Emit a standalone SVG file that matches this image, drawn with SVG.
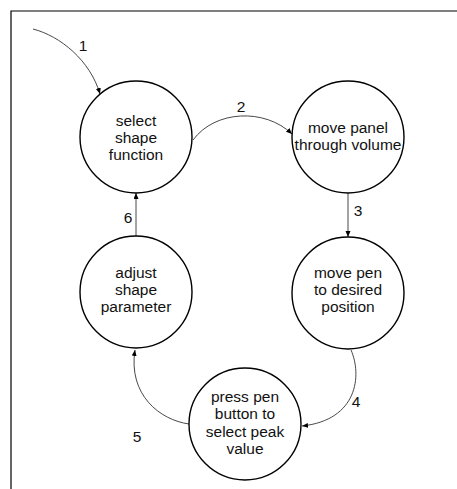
<svg xmlns="http://www.w3.org/2000/svg" width="457" height="489" viewBox="0 0 457 489">
<style>
.node circle{fill:#fff;stroke:#000;stroke-width:1.4}
.node text,.lbl{font-family:"Liberation Sans",Arial,sans-serif;font-size:15.5px;fill:#111;text-anchor:middle}
.edge{fill:none;stroke:#333;stroke-width:0.9;marker-end:url(#ah)}
</style>
<defs>
<marker id="ah" markerUnits="userSpaceOnUse" markerWidth="7" markerHeight="6" refX="6" refY="2.5" orient="auto">
<path d="M0,0 L6,2.5 L0,5 z" fill="#000"/>
</marker>
</defs>
<rect width="457" height="489" fill="#fff"/>
<path d="M457,11 H11 V489" fill="none" stroke="#000" stroke-width="1.2"/>
<g id="connectors">
<path class="edge" d="M33,29 C60,36 90,60 100,94"/>
<path class="edge" d="M193,140 C215,110 265,108 292,134"/>
<path class="edge" d="M348,193 L348,237"/>
<path class="edge" d="M351,350 C362,375 358,420 302,426"/>
<path class="edge" d="M189,424 C160,420 128,395 135,350"/>
<path class="edge" d="M136,237 L136,193"/>
<text class="lbl" x="83" y="51">1</text>
<text class="lbl" x="241" y="112">2</text>
<text class="lbl" x="358" y="216">3</text>
<text class="lbl" x="356" y="407">4</text>
<text class="lbl" x="137" y="442">5</text>
<text class="lbl" x="128" y="223">6</text>
</g>
<g id="n1" class="node">
<circle cx="136" cy="137" r="56"/>
<text x="136" y="126">select</text>
<text x="136" y="143">shape</text>
<text x="136" y="160">function</text>
</g>
<g id="n2" class="node">
<circle cx="348" cy="137" r="56"/>
<text x="348" y="133">move panel</text>
<text x="348" y="150">through volume</text>
</g>
<g id="n3" class="node">
<circle cx="348" cy="293" r="56"/>
<text x="348" y="278">move pen</text>
<text x="348" y="295">to desired</text>
<text x="348" y="312">position</text>
</g>
<g id="n4" class="node">
<circle cx="136" cy="292" r="56"/>
<text x="136" y="278">adjust</text>
<text x="136" y="295">shape</text>
<text x="136" y="312">parameter</text>
</g>
<g id="n5" class="node">
<circle cx="245" cy="424" r="56"/>
<text x="245" y="402">press pen</text>
<text x="245" y="419">button to</text>
<text x="245" y="437">select peak</text>
<text x="245" y="454">value</text>
</g>
</svg>
